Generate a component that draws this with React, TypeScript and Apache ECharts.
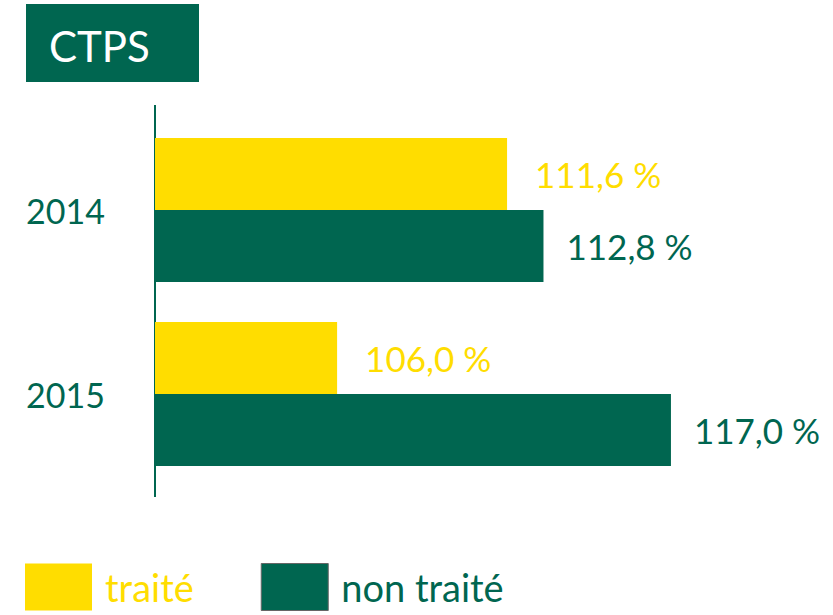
import React, { useEffect, useRef } from "react";
import * as echarts from "echarts";

const categories = ["2014", "2015"];
const seriesNames = ["traité", "non traité"];
const traiteValues = [111.6, 106.0];
const nonTraiteValues = [112.8, 117.0];
const titleText = "CTPS";

const YELLOW = "#FFDD00";
const GREEN = "#006650";
const FONT = "Lato";

const fmt = (v: number) => v.toFixed(1).replace(".", ",") + " %";

export default function App() {
  const ref = useRef<HTMLDivElement>(null);
  useEffect(() => {
    if (!ref.current) return;
    const chart = echarts.init(ref.current, undefined, { renderer: "svg" });
    chart.setOption({
      animation: false,
      backgroundColor: "#ffffff",
      grid: { left: 155, right: 71, top: 118, bottom: 129, containLabel: false },
      xAxis: {
        type: "value",
        min: 100,
        max: 120,
        show: false,
      },
      yAxis: {
        type: "category",
        data: categories,
        inverse: true,
        axisLine: { show: false },
        axisTick: { show: false },
        axisLabel: {
          color: GREEN,
          fontFamily: FONT,
          fontSize: 34,
          margin: 50,
          padding: [16, 0, 0, 0],
        },
      },
      legend: {
        left: 25,
        top: 563,
        padding: 0,
        icon: "rect",
        itemWidth: 67,
        itemHeight: 47,
        itemGap: 67,
        selectedMode: false,
        textStyle: { fontFamily: FONT, fontSize: 38, padding: [0, 0, 0, 8] },
        data: [
          { name: seriesNames[0], textStyle: { color: YELLOW } },
          { name: seriesNames[1], textStyle: { color: GREEN }, itemStyle: { borderColor: "#666", borderWidth: 1 } },
        ],
      },
      graphic: [
        {
          type: "rect",
          shape: { x: 26, y: 4, width: 173, height: 78 },
          style: { fill: GREEN },
        },
        {
          type: "text",
          x: 49,
          y: 46,
          style: {
            text: titleText,
            fill: "#ffffff",
            font: `42px ${FONT}`,
            align: "left",
            verticalAlign: "middle",
          },
        },
        {
          type: "line",
          shape: { x1: 155, y1: 105, x2: 155, y2: 497 },
          style: { stroke: GREEN, lineWidth: 2 },
        },
      ],
      series: [
        {
          name: seriesNames[0],
          type: "bar",
          data: traiteValues,
          barWidth: 72,
          barGap: "0%",
          itemStyle: { color: YELLOW },
          label: {
            show: true,
            position: "right",
            distance: 28,
            color: YELLOW,
            fontFamily: FONT,
            fontSize: 35,
            formatter: (p: any) => fmt(p.value),
          },
        },
        {
          name: seriesNames[1],
          type: "bar",
          data: nonTraiteValues,
          barWidth: 72,
          barGap: "0%",
          itemStyle: { color: GREEN },
          label: {
            show: true,
            position: "right",
            distance: 23,
            color: GREEN,
            fontFamily: FONT,
            fontSize: 35,
            formatter: (p: any) => fmt(p.value),
          },
        },
      ],
    });
    return () => chart.dispose();
  }, []);
  return (
    <div
      ref={ref}
      style={{ position: "absolute", left: 0, top: 0, width: 833, height: 615 }}
    />
  );
}
